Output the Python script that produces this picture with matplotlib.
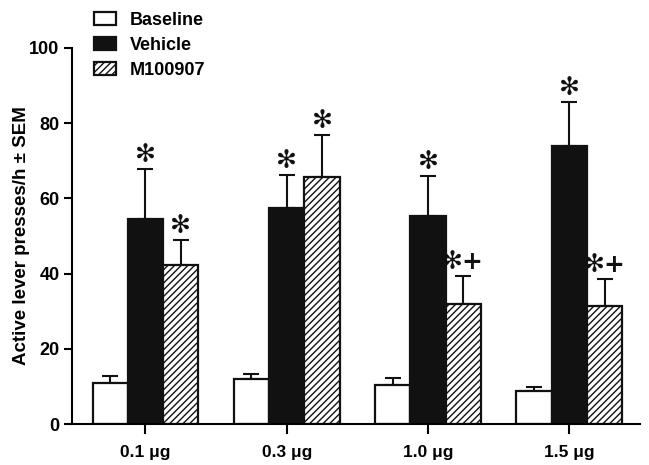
import numpy as np
import matplotlib
matplotlib.use('Agg')
import matplotlib.pyplot as plt

plt.rcParams['font.family'] = ['Liberation Sans', 'DejaVu Sans']
plt.rcParams['hatch.linewidth'] = 1.0

# datos
doses = ['0.1 μg', '0.3 μg', '1.0 μg', '1.5 μg']
series = ['Baseline', 'Vehicle', 'M100907']
baseline = [10.8, 12.0, 10.4, 8.9]
baseline_sem = [2.1, 1.2, 1.8, 0.9]
vehicle = [54.4, 57.5, 55.3, 74.0]
vehicle_sem = [13.4, 8.8, 10.7, 11.7]
m100907 = [42.3, 65.8, 31.9, 31.5]
m100907_sem = [6.6, 11.1, 7.5, 7.0]
# marcas de significancia
vehicle_marks = ['✻', '✻', '✻', '✻']
m100907_marks = ['✻', '✻', '✻+', '✻+']

fig = plt.figure(figsize=(6.49, 4.65), dpi=100)
ax = fig.add_axes([0.111, 0.088, 0.875, 0.809])

x = np.arange(len(doses))
w = 0.25
styles = [dict(color='white'), dict(color='#111111'), dict(color='white', hatch='/////')]
vals = [baseline, vehicle, m100907]
sems = [baseline_sem, vehicle_sem, m100907_sem]

for i in range(3):
    pos = x + (i - 1) * w
    ax.bar(pos, vals[i], w, edgecolor='#111111', linewidth=1.6, label=series[i],
           zorder=2, **styles[i])
    ax.errorbar(pos, vals[i], yerr=[np.zeros(len(doses)), sems[i]], fmt='none',
                ecolor='#111111', elinewidth=1.5, capsize=6, capthick=1.5, zorder=1)

for marks, v, s, off in [(vehicle_marks, vehicle, vehicle_sem, 0), (m100907_marks, m100907, m100907_sem, w)]:
    for xi, m, vi, si in zip(x, marks, v, s):
        ax.text(xi + off, vi + si + 0.5, m, ha='center', va='bottom', fontsize=18,
                fontweight='bold', family=['DejaVu Sans'], color='#111111')

ax.set_xlim(-0.52, 3.5)
ax.set_ylim(0, 100)
ax.set_yticks([0, 20, 40, 60, 80, 100])
ax.set_xticks(x)
ax.set_xticklabels(doses, fontsize=12.5, fontweight='bold')
for lab in ax.get_yticklabels():
    lab.set_fontsize(13)
    lab.set_fontweight('bold')
ax.set_ylabel('Active lever presses/h ± SEM', fontsize=13.5, fontweight='bold')
ax.yaxis.set_label_coords(-0.074, 0.5)

ax.spines['top'].set_visible(False)
ax.spines['right'].set_visible(False)
ax.spines['left'].set_linewidth(1.5)
ax.spines['bottom'].set_linewidth(1.5)
ax.tick_params(axis='y', length=6, width=1.5, pad=3)
ax.tick_params(axis='x', length=7, width=1.5, pad=8)

fig.legend(loc='upper left', bbox_to_anchor=(0.12, 1.01), frameon=False,
           prop={'weight': 'bold', 'size': 13}, handlelength=1.2, handleheight=0.75,
           handletextpad=0.8, labelspacing=0.45, borderpad=0.4)

plt.savefig('out.png', dpi=100)
